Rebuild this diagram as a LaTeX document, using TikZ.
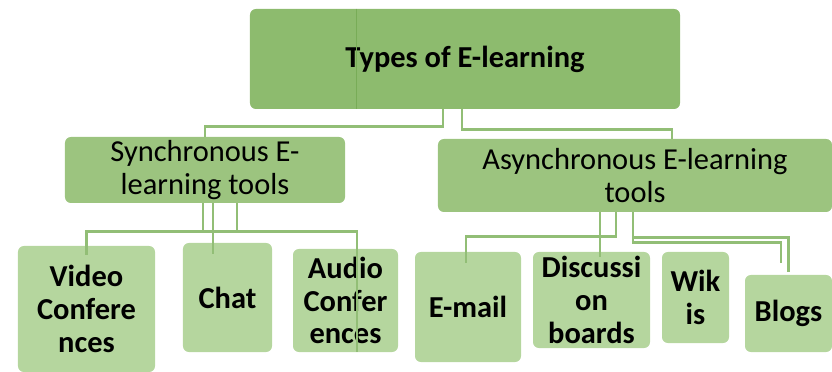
\documentclass[tikz,border=0pt]{standalone}
\usepackage{fontspec}
\setmainfont{Carlito}
\usetikzlibrary{positioning,calc}
\definecolor{topgreen}{HTML}{8DBB6E}
\definecolor{midgreen}{HTML}{9CC47F}
\definecolor{leafgreen}{HTML}{B5D69E}
\definecolor{linkgreen}{HTML}{92BE76}
\definecolor{edgegreen}{HTML}{78AC57}
\tikzset{every picture/.style={line width=0.75pt}}

\begin{document}
\begin{tikzpicture}[x=0.03cm, y=-0.03cm,
    box/.style={rounded corners=5pt, inner sep=0pt, align=center, font=\fontsize{26}{28}\selectfont},
    topbox/.style={box, fill=topgreen, font=\fontsize{26}{28}\selectfont\bfseries},
    midbox/.style={box, fill=midgreen},
    leafbox/.style={box, fill=leafgreen, font=\fontsize{26}{28}\selectfont\bfseries},
    link/.style={draw=linkgreen, line width=2pt}]
    \useasboundingbox (0,0) rectangle (832,372);
    % top and second level
    \node[topbox, minimum width=12.9cm, minimum height=3cm] (top) at (465,59) {Types of E-learning};
    \node[midbox, minimum width=8.4cm, minimum height=1.98cm] (sync) at (205,170) {Synchronous E-\\learning tools};
    \node[midbox, minimum width=11.82cm, minimum height=2.19cm] (async) at (635,175.5) {Asynchronous E-learning\\tools};
    % tools
    \node[leafbox, minimum width=4.11cm, minimum height=3.78cm] (video) at (86.5,309) {Video\\Confere\\nces};
    \node[leafbox, minimum width=2.67cm, minimum height=3.27cm] (chat) at (227.5,297.5) {Chat};
    \node[leafbox, minimum width=3.15cm, minimum height=3.09cm] (audio) at (345.5,300.5) {Audio\\Confer\\ences};
    \node[leafbox, minimum width=3.18cm, minimum height=3.3cm] (email) at (468,307) {E-mail};
    \node[leafbox, minimum width=3.51cm, minimum height=2.88cm] (disc) at (591.5,300) {Discussi\\on\\boards};
    \node[leafbox, minimum width=2.01cm, minimum height=2.73cm] (wikis) at (695.5,297.5) {Wik\\is};
    \node[leafbox, minimum width=2.61cm, minimum height=2.31cm] (blogs) at (788.5,313.5) {Blogs};
    % thin line through the top box
    \draw[edgegreen, line width=0.6pt] ($(top.north west)+(107,0)$) -- ($(top.south west)+(107,0)$);
    % links from the top
    \draw[link] ($(top.south)+(-22,0)$) |- ($(sync.north)+(0,-10)$) -- (sync.north);
    \draw[link] ($(top.south)+(-3,0)$) |- ($(async.north)+(37,-9)$) -- ($(async.north)+(37,0)$);
    % synchronous links
    \draw[link] ($(sync.south)+(32,0)$) |- ($(video.north)+(0,-14)$) -- ($(video.north)+(0,9)$);
    \draw[link] ($(sync.south)+(8,0)$) -- ($(chat.north)+(-14.5,11)$);
    \draw[link] ($(sync.south)+(-2,0)$) |- ($(audio.north)+(11.5,-17)$) -- ($(audio.south)+(11.5,0)$);
    % asynchronous links
    \draw[link] ($(async.south)+(-19,0)$) |- ($(email.north)+(-2,-15)$) -- ($(email.north)+(-2,11)$);
    \draw[link] ($(async.south)+(-35,0)$) -- ($(disc.north)+(8.5,5)$);
    \draw[link] ($(async.south)+(-2,0)$) |- ($(blogs.north)+(0,-37)$) -- ($(blogs.north)+(0,-3)$);
    \draw[link] ($(async.south)+(-2,0)$) |- ($(blogs.north)+(-7.5,-32)$) -- ($(blogs.north)+(-7.5,-12)$);
\end{tikzpicture}
\end{document}
